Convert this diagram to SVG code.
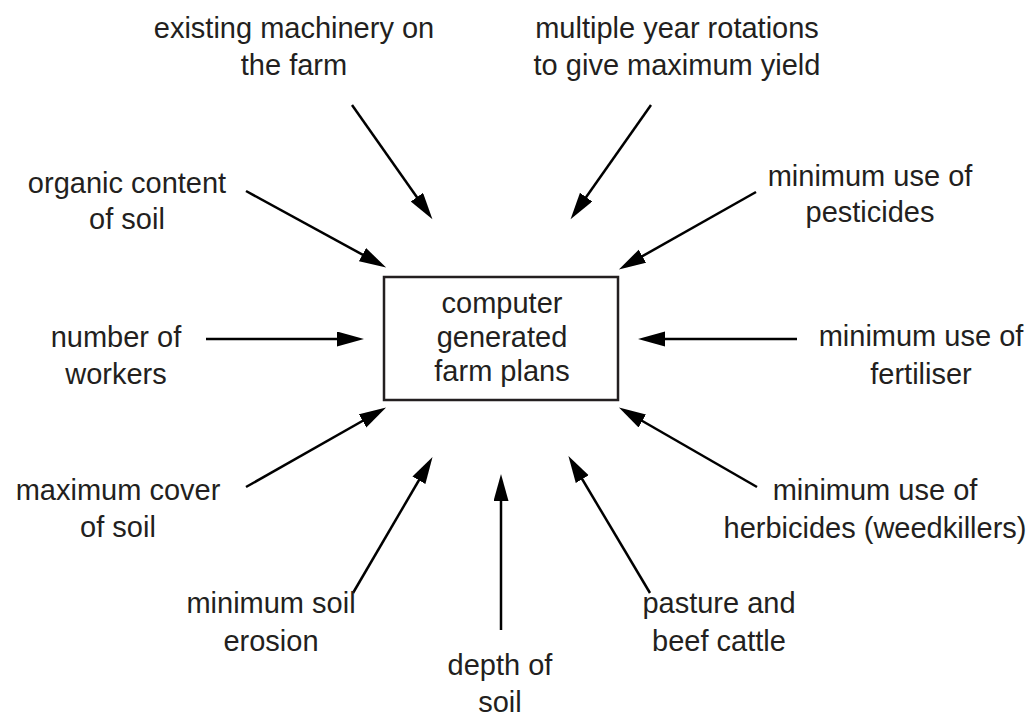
<svg xmlns="http://www.w3.org/2000/svg" width="1033" height="720" viewBox="0 0 1033 720">
<style>
text{font-family:"Liberation Sans",Arial,Helvetica,sans-serif;font-size:29px;fill:#231f20;text-anchor:middle}
.c line{stroke:#000;stroke-width:2.5;marker-end:url(#ah)}
.box{fill:#fff;stroke:#231f20;stroke-width:2.5}
</style>
<defs>
<marker id="ah" markerUnits="userSpaceOnUse" markerWidth="28" markerHeight="16" refX="20" refY="7.5" orient="auto" viewBox="0 0 28 16">
<path d="M0,0 L27,7.5 L0,15 Z" fill="#000"/>
</marker>
</defs>
<rect width="1033" height="720" fill="#fff"/>
<g class="c" id="connectors">
<line x1="352" y1="105" x2="428.4" y2="213.5"/>
<line x1="651" y1="105" x2="574.6" y2="213.5"/>
<line x1="246" y1="191" x2="380" y2="264.2"/>
<line x1="756" y1="192" x2="625" y2="266"/>
<line x1="206" y1="339" x2="357" y2="339"/>
<line x1="797" y1="339" x2="645" y2="339"/>
<line x1="246" y1="487" x2="380" y2="411"/>
<line x1="757" y1="487" x2="625" y2="411"/>
<line x1="353" y1="593" x2="429" y2="463"/>
<line x1="501" y1="630" x2="501" y2="481"/>
<line x1="650" y1="593" x2="572" y2="462"/>
</g>
<g id="center">
<rect class="box" x="384" y="277" width="234" height="123"/>
<text x="502" y="313">computer</text>
<text x="502" y="347">generated</text>
<text x="502" y="381">farm plans</text>
</g>
<g id="machinery"><text x="294" y="38">existing machinery on</text><text x="294" y="75">the farm</text></g>
<g id="rotations"><text x="677" y="38">multiple year rotations</text><text x="677" y="75">to give maximum yield</text></g>
<g id="organic"><text x="127" y="193">organic content</text><text x="127" y="229">of soil</text></g>
<g id="pesticides"><text x="870" y="186">minimum use of</text><text x="870" y="222">pesticides</text></g>
<g id="workers"><text x="116" y="347">number of</text><text x="116" y="384">workers</text></g>
<g id="fertiliser"><text x="921" y="346">minimum use of</text><text x="921" y="384">fertiliser</text></g>
<g id="cover"><text x="118" y="500">maximum cover</text><text x="118" y="537">of soil</text></g>
<g id="herbicides"><text x="875" y="500">minimum use of</text><text x="875" y="538">herbicides (weedkillers)</text></g>
<g id="erosion"><text x="271" y="613">minimum soil</text><text x="271" y="651">erosion</text></g>
<g id="depth"><text x="500" y="675">depth of</text><text x="500" y="712">soil</text></g>
<g id="pasture"><text x="719" y="613">pasture and</text><text x="719" y="651">beef cattle</text></g>
</svg>
